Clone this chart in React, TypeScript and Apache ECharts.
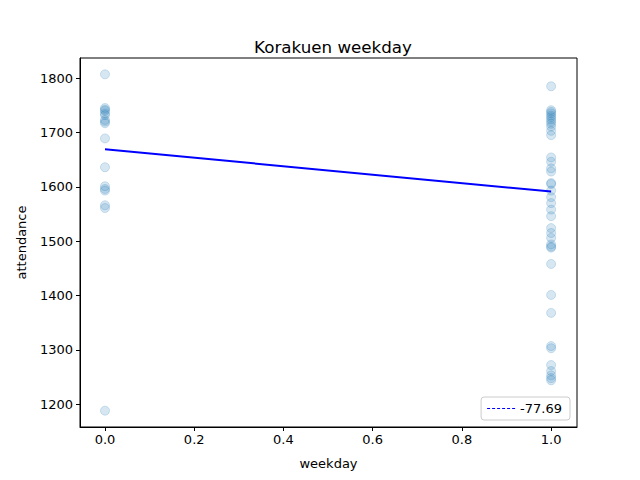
import React, { useEffect, useRef } from "react";
import * as echarts from "echarts";

const weekendValues = [1807, 1745, 1742, 1740, 1735, 1732, 1723, 1720, 1717, 1689, 1636, 1601, 1596, 1593, 1566, 1561, 1188];
const weekdayValues = [1785, 1741, 1738, 1735, 1731, 1728, 1724, 1720, 1716, 1711, 1703, 1695, 1654, 1646, 1634, 1628, 1607, 1605, 1593, 1581, 1570, 1558, 1546, 1524, 1515, 1506, 1494, 1490, 1488, 1458, 1401, 1368, 1307, 1303, 1272, 1261, 1253, 1248, 1244];
const regX = [0, 1];
const regY = [1669, 1591.3];
const regLabel = "-77.69";
const xTicks = [0, 0.2, 0.4, 0.6, 0.8, 1.0];
const yTicks = [1200, 1300, 1400, 1500, 1600, 1700, 1800];

export default function App() {
  const ref = useRef<HTMLDivElement>(null);
  useEffect(() => {
    const chart = echarts.init(ref.current!, null, { renderer: "svg" });
    const font = "DejaVu Sans";
    const pts = [
      ...weekendValues.map((v) => [0, v]),
      ...weekdayValues.map((v) => [1, v]),
    ];
    chart.setOption({
      animation: false,
      textStyle: { fontFamily: font },
      title: {
        text: "Korakuen weekday",
        left: 328,
        top: 33,
        textAlign: "center",
        textStyle: { fontFamily: font, fontSize: 16.7, fontWeight: "normal", color: "#000" },
      },
      grid: {
        left: 80,
        right: 63,
        top: 58,
        bottom: 53,
        show: true,
        borderColor: "#000",
        borderWidth: 1,
        backgroundColor: "transparent",
      },
      legend: {
        right: 70,
        bottom: 60,
        orient: "vertical",
        borderColor: "#ccc",
        borderWidth: 1,
        borderRadius: 3,
        padding: [5, 8, 5, 6],
        itemWidth: 28,
        itemHeight: 2,
        itemGap: 5,
        textStyle: { fontFamily: font, fontSize: 13, color: "#000" },
        data: [
          {
            name: regLabel,
            icon: "path://M0,0h3v1h-3zM5,0h3v1h-3zM10,0h3v1h-3zM15,0h3v1h-3zM20,0h3v1h-3zM25,0h3v1h-3z",
            itemStyle: { color: "#0000ff" },
          },
        ],
      },
      xAxis: {
        type: "value",
        min: -0.056,
        max: 1.058,
        name: "weekday",
        nameLocation: "middle",
        nameGap: 30,
        nameTextStyle: { fontFamily: font, fontSize: 13, color: "#000" },
        splitLine: { show: false },
        axisLine: { show: true, onZero: false, lineStyle: { color: "#000" } },
        axisTick: { show: true, length: 4, lineStyle: { color: "#000" }, customValues: xTicks },
        axisLabel: {
          fontFamily: font,
          fontSize: 13,
          color: "#000",
          margin: 6,
          customValues: xTicks,
          formatter: (v: number) => v.toFixed(1),
        },
      },
      yAxis: {
        type: "value",
        min: 1158,
        max: 1837,
        name: "attendance",
        nameLocation: "middle",
        nameGap: 52,
        nameRotate: 90,
        nameTextStyle: { fontFamily: font, fontSize: 13, color: "#000" },
        splitLine: { show: false },
        axisLine: { show: true, onZero: false, lineStyle: { color: "#000" } },
        axisTick: { show: true, length: 4, lineStyle: { color: "#000" }, customValues: yTicks },
        axisLabel: {
          fontFamily: font,
          fontSize: 13,
          color: "#000",
          margin: 7,
          customValues: yTicks,
          formatter: (v: number) => String(v),
        },
      },
      series: [
        {
          type: "scatter",
          name: "points",
          data: pts,
          symbolSize: 9,
          itemStyle: { color: "rgba(31,119,180,0.22)", borderColor: "rgba(31,119,180,0.25)", borderWidth: 1 },
          z: 2,
        },
        {
          type: "line",
          name: regLabel,
          data: regX.map((x, i) => [x, regY[i]]),
          symbol: "none",
          lineStyle: { color: "#0000ff", width: 2 },
          itemStyle: { color: "#0000ff" },
          z: 3,
        },
      ],
    });
    return () => chart.dispose();
  }, []);
  return <div ref={ref} style={{ width: 640, height: 480, position: "absolute", left: 0, top: 0 }} />;
}
